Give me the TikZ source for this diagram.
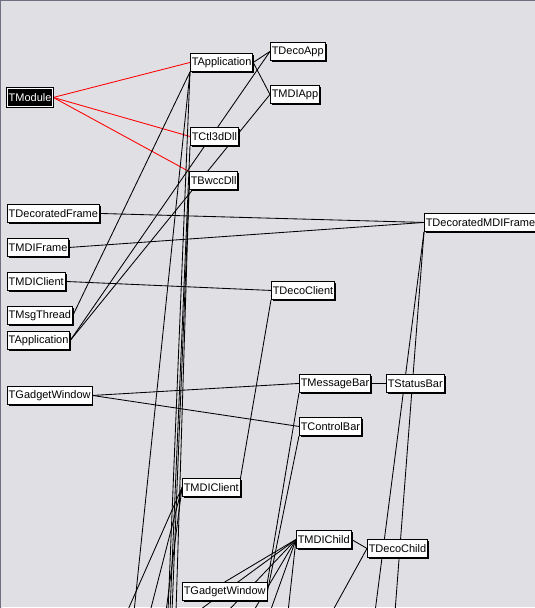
\documentclass[tikz,border=0pt]{standalone}
\usepackage{fontspec}
\setmainfont{Liberation Sans}
\usetikzlibrary{shadows}
\definecolor{pane}{RGB}{224,223,227}
\definecolor{rim}{RGB}{112,112,132}
\pgfdeclarelayer{back}
\pgfdeclarelayer{wires}
\pgfsetlayers{back,wires,main}

\begin{document}
\begin{tikzpicture}[x=1pt, y=-1pt,
  cls/.style={draw, fill=white, line width=0.9pt, anchor=north west, inner xsep=1.3pt, inner ysep=0pt,
    minimum height=18pt, font=\fontsize{11}{12}\selectfont,
    drop shadow={shadow xshift=1.5pt, shadow yshift=-1.5pt, opacity=1, fill=black}},
  sel/.style={cls, fill=black, text=white, double=white, double distance=0.8pt},
  rel/.style={line width=0.85pt},
  own/.style={rel, red}
]
\useasboundingbox (0,0) rectangle (535,608);
\begin{pgfonlayer}{back}
\fill[pane] (0,0) rectangle (535,608);
\draw[rim, line width=1.5pt] (0,608) -- (0,0.7) -- (535,0.7);
\draw[white, line width=1pt] (2,607.5) -- (535,607.5);
\end{pgfonlayer}

\node[sel] (tmodule) at (7,88) {TModule};
\node[cls] (tapplication) at (190,53) {TApplication};
\node[cls] (tctl3ddll) at (190,127) {TCtl3dDll};
\node[cls] (tbwccdll) at (189,171) {TBwccDll};
\node[cls] (tdecoapp) at (270,42) {TDecoApp};
\node[cls] (tmdiapp) at (270,85) {TMDIApp};
\node[cls] (tdecframe) at (7,204) {TDecoratedFrame};
\node[cls] (tmdiframe) at (7,238) {TMDIFrame};
\node[cls] (tmdiclient) at (7,272) {TMDIClient};
\node[cls] (tmsgthread) at (7,306) {TMsgThread};
\node[cls] (tapplication2) at (7,331) {TApplication};
\node[cls] (tdecmdiframe) at (424,213) {TDecoratedMDIFrame};
\node[cls] (tdecoclient) at (271,281) {TDecoClient};
\node[cls] (tgadgetwindow) at (7,386) {TGadgetWindow};
\node[cls] (tmessagebar) at (299,374) {TMessageBar};
\node[cls] (tstatusbar) at (386,374) {TStatusBar};
\node[cls] (tcontrolbar) at (299,417) {TControlBar};
\node[cls] (tmdiclient2) at (182,478) {TMDIClient};
\node[cls] (tmdichild) at (296,530) {TMDIChild};
\node[cls] (tdecochild) at (367,539) {TDecoChild};
\node[cls] (tgadgetwindow2) at (182,582) {TGadgetWindow};

\coordinate (out1) at (127,612);
\coordinate (out2) at (134,612);
\coordinate (out3) at (150,612);
\coordinate (out4) at (166,612);
\coordinate (out5) at (168,612);
\coordinate (out6) at (170,612);
\coordinate (out7) at (172,612);
\coordinate (out8) at (176,612);
\coordinate (out9) at (197,612);
\coordinate (out10) at (227,612);
\coordinate (out11) at (253,612);
\coordinate (out12) at (270,612);
\coordinate (out13) at (288,612);
\coordinate (out14) at (332,612);
\coordinate (out15) at (375,612);
\coordinate (out16) at (395,612);

\begin{pgfonlayer}{wires}
\draw[own] (tmodule.east) -- (tapplication.west);
\draw[own] (tmodule.east) -- (tctl3ddll.west);
\draw[own] (tmodule.east) -- (tbwccdll.160);
\draw[rel] (tapplication.east) -- (tdecoapp.west);
\draw[rel] (tapplication.east) -- (tmdiapp.west);
\draw[rel] (tapplication2.east) -- (tdecoapp.west);
\draw[rel] (tapplication2.east) -- (tmdiapp.west);
\draw[rel] (tmsgthread.east) -- (tapplication.south west);
\draw[rel] (tdecframe.east) -- (tdecmdiframe.west);
\draw[rel] (tmdiframe.east) -- (tdecmdiframe.west);
\draw[rel] (tmdiclient.east) -- (tdecoclient.west);
\draw[rel] (tgadgetwindow.east) -- (tmessagebar.west);
\draw[rel] (tgadgetwindow.east) -- (tcontrolbar.west);
\draw[rel] (tmessagebar.east) -- (tstatusbar.west);
\draw[rel] (tdecoclient.south west) -- (tmdiclient2.north east);
\draw[rel] (tmessagebar.south west) -- (tgadgetwindow2.north east);
\draw[rel] (tcontrolbar.south west) -- (tgadgetwindow2.east);
\draw[rel] (tmdichild.east) -- (tdecochild.west);
\draw[rel] (tdecmdiframe.south west) -- (out15);
\draw[rel] (tdecmdiframe.south west) -- (out16);
\draw[rel] (tdecochild.west) -- (out14);
\draw[rel] (tapplication.south west) -- (out2);
\draw[rel] (tapplication.south west) -- (out5);
\draw[rel] (tctl3ddll.south west) -- (out6);
\draw[rel] (tbwccdll.south west) -- (out7);
\draw[rel] (tbwccdll.south west) -- (out8);
\draw[rel] (tmdiclient2.west) -- (out1);
\draw[rel] (tmdiclient2.west) -- (out3);
\draw[rel] (tmdiclient2.west) -- (out4);
\draw[rel] (tmdichild.west) -- (tgadgetwindow2.north);
\draw[rel] (tmdichild.west) -- (out9);
\draw[rel] (tmdichild.west) -- (out10);
\draw[rel] (tmdichild.west) -- (out11);
\draw[rel] (tmdichild.west) -- (out12);
\draw[rel] (tmdichild.west) -- (out13);
\end{pgfonlayer}
\end{tikzpicture}
\end{document}
